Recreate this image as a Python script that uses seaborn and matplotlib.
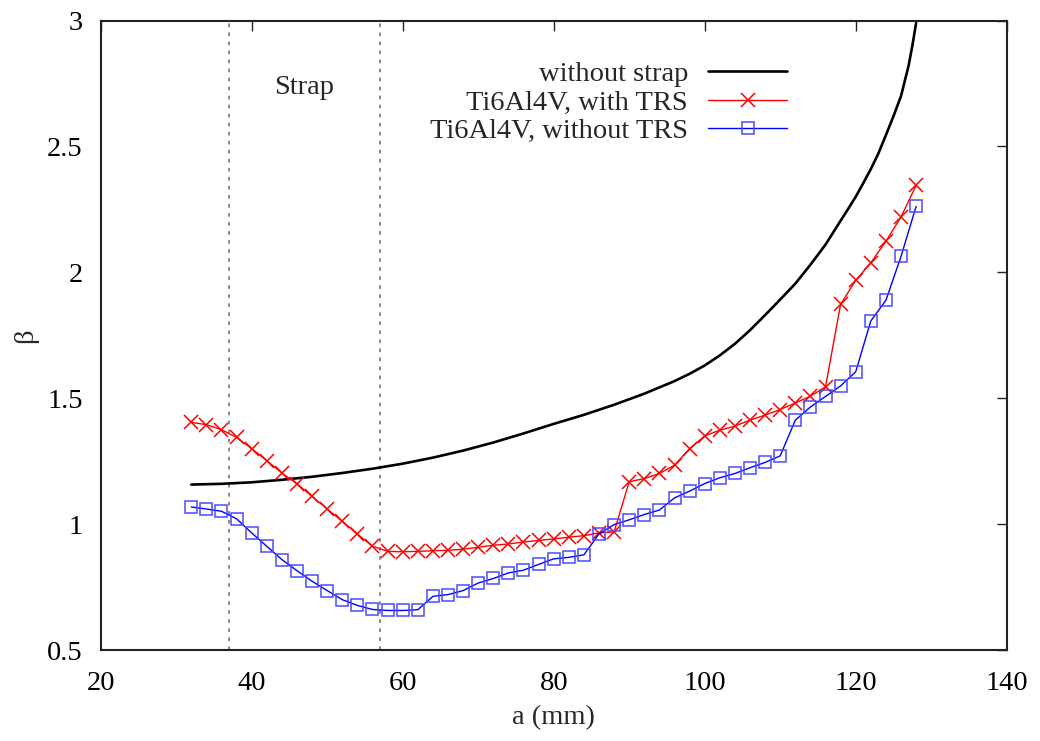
import matplotlib
matplotlib.use("Agg")
import matplotlib.pyplot as plt
import seaborn as sns

# ---- data ----
a_free = [32, 36, 40, 44, 48, 52, 56, 60, 64, 68, 72, 76, 80, 84, 88, 92, 96,
          98, 100, 102, 104, 106, 108, 110, 112, 114, 116, 118, 119, 120, 121,
          122, 123, 124, 125, 126, 127, 127.5, 128]
beta_free = [1.157, 1.160, 1.166, 1.176, 1.188, 1.203, 1.220, 1.240, 1.264, 1.292,
             1.324, 1.360, 1.398, 1.434, 1.474, 1.518, 1.568, 1.597, 1.630, 1.670,
             1.716, 1.770, 1.830, 1.892, 1.955, 2.030, 2.110, 2.205, 2.252, 2.300,
             2.354, 2.410, 2.472, 2.545, 2.620, 2.700, 2.820, 2.900, 2.990]

a_pts = [32, 34, 36, 38, 40, 42, 44, 46, 48, 50, 52, 54, 56, 58, 60, 62, 64, 66,
         68, 70, 72, 74, 76, 78, 80, 82, 84, 86, 88, 90, 92, 94, 96, 98, 100, 102,
         104, 106, 108, 110, 112, 114, 116, 118, 120, 122, 124, 126, 128]
beta_trs = [1.404, 1.395, 1.375, 1.344, 1.300, 1.252, 1.203, 1.160, 1.110, 1.060,
            1.011, 0.961, 0.912, 0.892, 0.890, 0.892, 0.894, 0.896, 0.900, 0.908,
            0.916, 0.921, 0.929, 0.935, 0.941, 0.948, 0.954, 0.965, 0.969, 1.168,
            1.181, 1.201, 1.234, 1.300, 1.350, 1.373, 1.389, 1.413, 1.433, 1.455,
            1.481, 1.508, 1.545, 1.873, 1.968, 2.038, 2.123, 2.220, 2.345]
beta_notrs = [1.068, 1.060, 1.051, 1.021, 0.965, 0.912, 0.859, 0.815, 0.773, 0.736,
              0.700, 0.677, 0.661, 0.657, 0.657, 0.660, 0.713, 0.720, 0.736, 0.766,
              0.784, 0.806, 0.817, 0.840, 0.862, 0.868, 0.878, 0.961, 0.998, 1.017,
              1.038, 1.056, 1.104, 1.131, 1.161, 1.184, 1.201, 1.224, 1.245, 1.271,
              1.413, 1.465, 1.507, 1.549, 1.605, 1.807, 1.889, 2.063, 2.262]

strap_edges = [37, 57]
labels = ["without strap", "Ti6Al4V, with TRS", "Ti6Al4V, without TRS"]
x_ticks = [20, 40, 60, 80, 100, 120, 140]
y_ticks = [0.5, 1, 1.5, 2, 2.5, 3]
y_ticklabels = ["0.5", "1", "1.5", "2", "2.5", "3"]

# ---- style ----
sns.set_style("white")
plt.rcParams["font.family"] = ["Liberation Serif", "DejaVu Serif"]
FS = 20.5

fig = plt.figure(figsize=(10.4, 7.41), dpi=100)
ax = fig.add_axes([0.0968, 0.1228, 0.8712, 0.8495])

sns.lineplot(x=a_free, y=beta_free, ax=ax, color="black", linewidth=1.9,
             label=labels[0], sort=False)
sns.lineplot(x=a_pts, y=beta_trs, ax=ax, color="#ff0000", linewidth=1.0,
             marker="x", markersize=10, markeredgewidth=1.1,
             markeredgecolor="#ff0000", label=labels[1], sort=False)
sns.lineplot(x=a_pts, y=beta_notrs, ax=ax, color="#0000ff", linewidth=1.0,
             marker="s", markersize=9, markeredgewidth=1.1,
             markerfacecolor="none", markeredgecolor="#4a4aff",
             label=labels[2], sort=False)

for xe in strap_edges:
    ax.axvline(xe, color="#808080", linewidth=1.3, linestyle=(0, (2, 3)), zorder=0)

ax.text(47.0, 2.735, "Strap", fontsize=FS, ha="center", va="center")

ax.set_xlim(20, 140)
ax.set_ylim(0.5, 3)
ax.set_xticks(x_ticks)
ax.set_yticks(y_ticks)
ax.set_xticklabels([str(t) for t in x_ticks])
ax.set_yticklabels(y_ticklabels)
ax.tick_params(axis="both", which="major", direction="in", length=7, width=1,
               colors="#222222", labelcolor="black", labelsize=FS,
               top=True, right=True)
ax.tick_params(axis="x", pad=15)
ax.tick_params(axis="y", pad=13)
for sp in ax.spines.values():
    sp.set_visible(True)
    sp.set_linewidth(1.5)
    sp.set_color("#222222")

ax.set_xlabel("a (mm)", fontsize=FS)
ax.set_ylabel("β", fontsize=FS)
ax.xaxis.set_label_coords(0.5, -0.087)
ax.yaxis.set_label_coords(-0.069, 0.5)

leg = ax.legend(loc="upper right", bbox_to_anchor=(0.7575, 0.936),
                frameon=False, markerfirst=False, fontsize=FS,
                handlelength=2.76, handletextpad=0.72, labelspacing=0.1,
                borderpad=0, borderaxespad=0)

fig.savefig("out.png", dpi=100)
